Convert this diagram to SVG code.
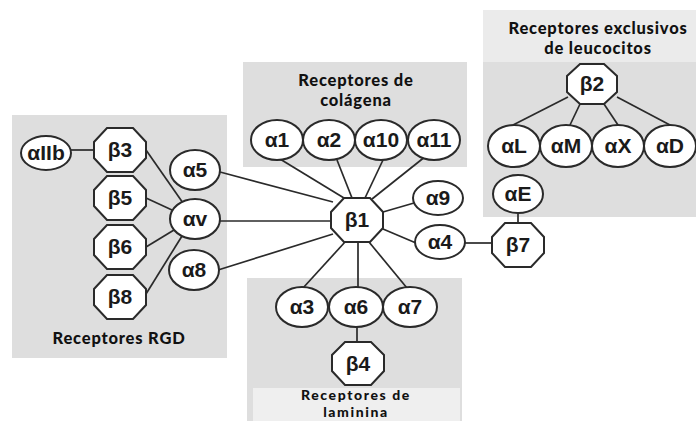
<svg xmlns="http://www.w3.org/2000/svg" width="696" height="421" viewBox="0 0 696 421">
<defs>
<style>
.box{fill:#dedede}
.hdr{fill:#ebebeb}
.a{fill:#fff;stroke:#2a2a2a;stroke-width:2}
.b{fill:#fff;stroke:#2a2a2a;stroke-width:2}
.t{font-family:"Liberation Sans",Arial,sans-serif;font-weight:bold;font-size:21px;fill:#1a1a1a;text-anchor:middle}
.ti{font-family:Lato,"Open Sans",sans-serif;font-weight:900;font-size:16.5px;letter-spacing:0.8px;fill:#111;text-anchor:middle}
.ts{font-size:14px;letter-spacing:1.6px}
.c line{stroke:#2a2a2a;stroke-width:1.7}
</style>
<polygon id="oct" points="-13,-22 13,-22 26,-8 26,8 13,22 -13,22 -26,8 -26,-8"/>
</defs>
<rect width="696" height="421" fill="#fff"/>
<g id="box-rgd"><rect class="box" x="12" y="115" width="215" height="243"/><text class="ti" x="119" y="344">Receptores RGD</text></g>
<g id="box-colagena"><rect class="box" x="243" y="62" width="224" height="105"/><text class="ti" x="356" y="86">Receptores de</text><text class="ti" x="356" y="106">colágena</text></g>
<g id="box-leucocitos"><rect class="box" x="483" y="10" width="213" height="207"/><rect class="hdr" x="483" y="10" width="213" height="52"/><text class="ti" x="598" y="34">Receptores exclusivos</text><text class="ti" x="598" y="54">de leucocitos</text></g>
<g id="box-laminina"><rect class="box" x="247" y="278" width="215" height="143"/><rect x="253" y="388" width="207" height="33" fill="#efefef"/><text class="ti ts" x="356" y="400">Receptores de</text><text class="ti ts" x="356" y="417">laminina</text></g>
<g id="connectors" class="c">
<line x1="71" y1="150" x2="94" y2="150"/>
<line x1="146" y1="150" x2="183" y2="203"/>
<line x1="146" y1="198" x2="172" y2="210"/>
<line x1="146" y1="247" x2="174" y2="230"/>
<line x1="146" y1="294" x2="182" y2="236"/>
<line x1="220" y1="172" x2="333" y2="202"/>
<line x1="220" y1="221" x2="332" y2="221"/>
<line x1="218" y1="270" x2="333" y2="234"/>
<line x1="280" y1="159" x2="344" y2="198"/>
<line x1="337" y1="160" x2="352" y2="198"/>
<line x1="383" y1="160" x2="365" y2="198"/>
<line x1="426" y1="156" x2="372" y2="199"/>
<line x1="383" y1="212" x2="414" y2="203"/>
<line x1="383" y1="229" x2="416" y2="243"/>
<line x1="345" y1="242" x2="303" y2="288"/>
<line x1="358" y1="242" x2="358" y2="287"/>
<line x1="369" y1="242" x2="407" y2="288"/>
<line x1="357" y1="327" x2="357" y2="342"/>
<line x1="465" y1="243" x2="492" y2="243"/>
<line x1="518" y1="212" x2="518" y2="223"/>
<line x1="568" y1="97" x2="513" y2="125"/>
<line x1="580" y1="104" x2="570" y2="125"/>
<line x1="604" y1="104" x2="618" y2="125"/>
<line x1="617" y1="97" x2="670" y2="125"/>
</g>
<g id="aIIb"><ellipse class="a" cx="46" cy="153" rx="25" ry="17"/><text class="t" x="46" y="160">αIIb</text></g>
<g id="b3"><use href="#oct" class="b" x="120" y="150"/><text class="t" x="120" y="157">β3</text></g>
<g id="b5"><use href="#oct" class="b" x="120" y="198"/><text class="t" x="120" y="205">β5</text></g>
<g id="b6"><use href="#oct" class="b" x="120" y="247"/><text class="t" x="120" y="254">β6</text></g>
<g id="b8"><use href="#oct" class="b" x="120" y="297"/><text class="t" x="120" y="304">β8</text></g>
<g id="a5"><ellipse class="a" cx="195" cy="170" rx="25" ry="20"/><text class="t" x="195" y="177">α5</text></g>
<g id="av"><ellipse class="a" cx="195" cy="219" rx="25" ry="20"/><text class="t" x="195" y="226">αv</text></g>
<g id="a8"><ellipse class="a" cx="194" cy="270" rx="25" ry="20"/><text class="t" x="194" y="277">α8</text></g>
<g id="a1"><ellipse class="a" cx="277" cy="140" rx="26" ry="20"/><text class="t" x="277" y="147">α1</text></g>
<g id="a2"><ellipse class="a" cx="329" cy="140" rx="26" ry="20"/><text class="t" x="329" y="147">α2</text></g>
<g id="a10"><ellipse class="a" cx="381" cy="140" rx="26" ry="20"/><text class="t" x="381" y="147">α10</text></g>
<g id="a11"><ellipse class="a" cx="434" cy="140" rx="26" ry="20"/><text class="t" x="434" y="147">α11</text></g>
<g id="b1"><use href="#oct" class="b" x="357" y="220"/><text class="t" x="357" y="227">β1</text></g>
<g id="a9"><ellipse class="a" cx="438" cy="198" rx="25" ry="17"/><text class="t" x="438" y="205">α9</text></g>
<g id="a4"><ellipse class="a" cx="440" cy="242" rx="25" ry="17"/><text class="t" x="440" y="249">α4</text></g>
<g id="b7"><use href="#oct" class="b" x="518" y="245"/><text class="t" x="518" y="252">β7</text></g>
<g id="aE"><ellipse class="a" cx="518" cy="194" rx="25" ry="19"/><text class="t" x="518" y="201">αE</text></g>
<g id="b2"><polygon class="b" points="580,64 604,64 617,76 617,92 604,104 580,104 567,92 567,76"/><text class="t" x="592" y="91">β2</text></g>
<g id="aL"><ellipse class="a" cx="514" cy="146" rx="26" ry="21"/><text class="t" x="514" y="153">αL</text></g>
<g id="aM"><ellipse class="a" cx="566" cy="146" rx="26" ry="21"/><text class="t" x="566" y="153">αM</text></g>
<g id="aX"><ellipse class="a" cx="618" cy="146" rx="26" ry="21"/><text class="t" x="618" y="153">αX</text></g>
<g id="aD"><ellipse class="a" cx="670" cy="146" rx="26" ry="21"/><text class="t" x="670" y="153">αD</text></g>
<g id="a3"><ellipse class="a" cx="302" cy="307" rx="26" ry="20"/><text class="t" x="302" y="314">α3</text></g>
<g id="a6"><ellipse class="a" cx="356" cy="307" rx="27" ry="20"/><text class="t" x="356" y="314">α6</text></g>
<g id="a7"><ellipse class="a" cx="410" cy="307" rx="27" ry="20"/><text class="t" x="410" y="314">α7</text></g>
<g id="b4"><polygon class="b" points="345,342 371,342 384,355 384,371 371,385 345,385 332,371 332,355"/><text class="t" x="358" y="371">β4</text></g>
</svg>
